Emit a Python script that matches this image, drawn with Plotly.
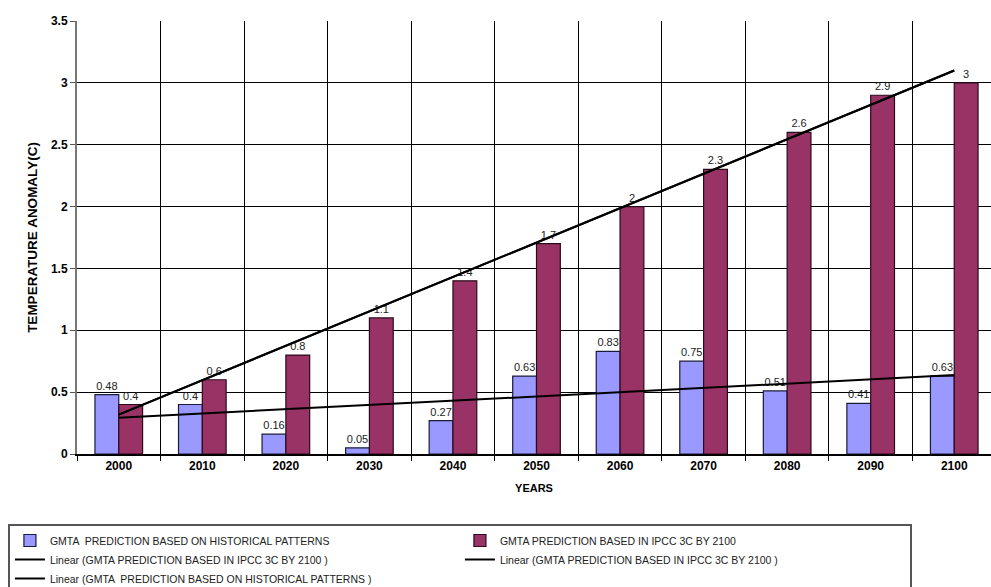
import numpy as np
import plotly.graph_objects as go

years = ["2000", "2010", "2020", "2030", "2040", "2050", "2060", "2070", "2080", "2090", "2100"]
historical = [0.48, 0.4, 0.16, 0.05, 0.27, 0.63, 0.83, 0.75, 0.51, 0.41, 0.63]
ipcc = [0.4, 0.6, 0.8, 1.1, 1.4, 1.7, 2.0, 2.3, 2.6, 2.9, 3.0]
y_ticks = [0, 0.5, 1, 1.5, 2, 2.5, 3, 3.5]

name_hist = "GMTA  PREDICTION BASED ON HISTORICAL PATTERNS"
name_ipcc = "GMTA PREDICTION BASED IN IPCC 3C BY 2100"

xpos = np.arange(len(years))

def linear_fit(vals):
    slope, intercept = np.polyfit(xpos, np.array(vals, dtype=float), 1)
    return intercept + slope * xpos

trend_ipcc = linear_fit(ipcc)
trend_hist = linear_fit(historical)

FONT = "Liberation Sans, Arial, sans-serif"
LEG_FONT = "Liberation Sans Narrow, Arial Narrow, Liberation Sans, Arial, sans-serif"

fig = go.Figure()
fig.add_trace(go.Bar(
    x=xpos, y=historical, name=name_hist,
    marker=dict(color="#9999FF", line=dict(color="#1a1a3a", width=1.2)),
    texttemplate="%{y}", textposition="outside", cliponaxis=False,
    textfont=dict(family=FONT, size=11, color="#222"),
))
fig.add_trace(go.Bar(
    x=xpos, y=ipcc, name=name_ipcc,
    marker=dict(color="#993366", line=dict(color="#2a0a1a", width=1.2)),
    texttemplate="%{y}", textposition="outside", cliponaxis=False,
    textfont=dict(family=FONT, size=11, color="#222"),
))
fig.add_trace(go.Scatter(
    x=xpos, y=trend_ipcc, mode="lines",
    name="Linear (GMTA PREDICTION BASED IN IPCC 3C BY 2100 )",
    line=dict(color="black", width=2),
))
fig.add_trace(go.Scatter(
    x=xpos, y=trend_ipcc, mode="lines",
    name="Linear (GMTA PREDICTION BASED IN IPCC 3C BY 2100 )",
    line=dict(color="black", width=2),
))
fig.add_trace(go.Scatter(
    x=xpos, y=trend_hist, mode="lines",
    name="Linear (GMTA  PREDICTION BASED ON HISTORICAL PATTERNS )",
    line=dict(color="black", width=2),
))

fig.update_layout(
    width=991, height=587,
    margin=dict(l=77, r=0, t=21, b=133),
    paper_bgcolor="white", plot_bgcolor="white",
    barmode="group", bargap=0.43, bargroupgap=0.0,
    font=dict(family=FONT, color="black"),
    showlegend=True,
    legend=dict(
        orientation="h", xref="container", yref="container",
        x=0.008, xanchor="left", y=1 - 524 / 587, yanchor="top",
        entrywidth=405, entrywidthmode="pixels",
        bordercolor="#555", borderwidth=2, bgcolor="white",
        font=dict(family=LEG_FONT, size=10.5, color="#222"),
        itemwidth=30, tracegroupgap=0,
    ),
    xaxis=dict(
        range=[-0.5, 10.44],
        tickmode="array", tickvals=list(xpos), ticktext=years,
        showgrid=False, ticks="",
        tickfont=dict(family=FONT, size=12, color="black", weight="bold"),
        showline=True, linecolor="black", linewidth=1.5,
        minor=dict(tickmode="array", tickvals=list(xpos - 0.5) + [len(years) - 0.5],
                   showgrid=True, gridcolor="black", gridwidth=1,
                   ticks="outside", ticklen=5, tickcolor="black"),
        title=dict(text="<b>YEARS</b>", font=dict(family=FONT, size=11), standoff=12),
        zeroline=False,
    ),
    yaxis=dict(
        range=[0, 3.5], tickmode="array", tickvals=y_ticks,
        ticktext=[f"{v:g}" for v in y_ticks],
        showgrid=True, gridcolor="black", gridwidth=1,
        ticks="outside", ticklen=5, tickcolor="#555",
        showline=True, linecolor="#777", linewidth=2,
        tickfont=dict(family=FONT, size=12, color="black", weight="bold"),
        title=dict(text="<b>TEMPERATURE ANOMALY(C)</b>", font=dict(family=FONT, size=13.5), standoff=10),
        zeroline=False,
    ),
)

fig.write_html("out.html")
